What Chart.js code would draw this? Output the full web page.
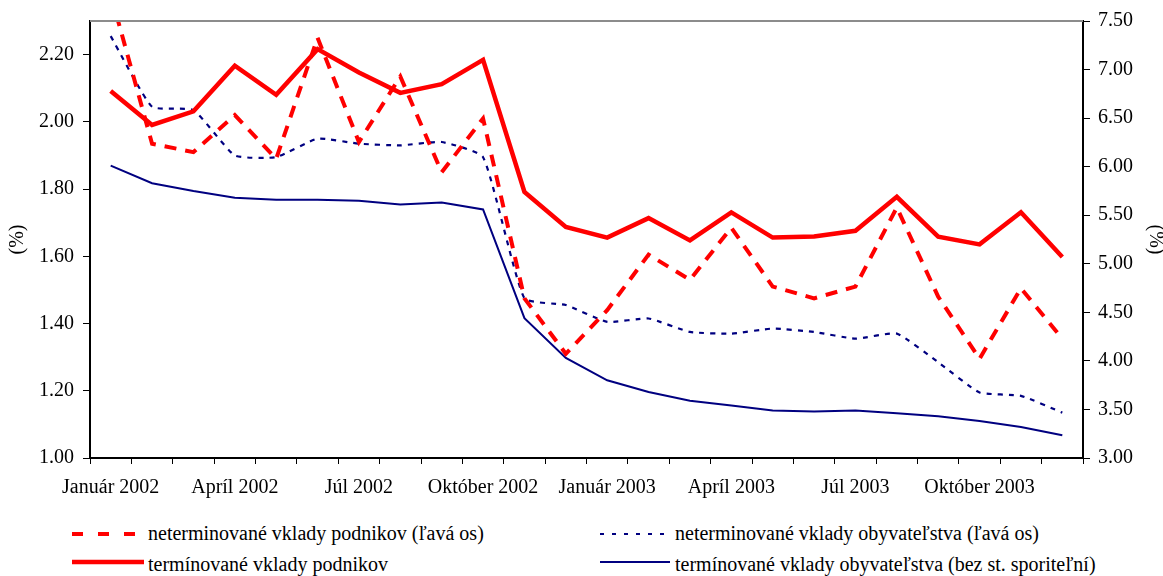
<!DOCTYPE html>
<html>
<head>
<meta charset="utf-8">
<script src="https://cdn.jsdelivr.net/npm/chart.js@4.4.1/dist/chart.umd.min.js"></script>
<style>
  body { margin: 0; background: #fff; }
  #wrap { position: relative; width: 1163px; height: 576px; font-family: "Liberation Serif", "Times New Roman", serif; color: #000; }
  #chart-box { position: absolute; left: 0; top: 0; width: 1163px; height: 510px; }
  .leg-line { position: absolute; }
  .leg-text { position: absolute; font-size: 20px; line-height: 24px; white-space: nowrap; }
</style>
</head>
<body>
<div id="wrap">
  <div id="chart-box"><canvas id="rates"></canvas></div>

  <svg class="leg-line" style="left:72px; top:528px;" width="64" height="12">
    <line x1="0" y1="6" x2="64" y2="6" stroke="#ff0000" stroke-width="4" stroke-dasharray="11 15"></line>
  </svg>
  <div class="leg-text" style="left:148px; top:521px;">neterminované vklady podnikov (ľavá os)</div>

  <svg class="leg-line" style="left:72px; top:556px;" width="72" height="12">
    <line x1="0" y1="6" x2="72" y2="6" stroke="#ff0000" stroke-width="4.5"></line>
  </svg>
  <div class="leg-text" style="left:148px; top:552px;">termínované vklady podnikov</div>

  <svg class="leg-line" style="left:600px; top:528px;" width="72" height="12">
    <line x1="0" y1="6" x2="72" y2="6" stroke="#000080" stroke-width="2" stroke-dasharray="4 8"></line>
  </svg>
  <div class="leg-text" style="left:675px; top:521px;">neterminované vklady obyvateľstva (ľavá os)</div>

  <svg class="leg-line" style="left:600px; top:556px;" width="70" height="12">
    <line x1="0" y1="6" x2="70" y2="6" stroke="#000080" stroke-width="2"></line>
  </svg>
  <div class="leg-text" style="left:675px; top:552px;">termínované vklady obyvateľstva (bez st. sporiteľní)</div>
</div>

<script>
const monthNames = ['Január', 'Február', 'Marec', 'Apríl', 'Máj', 'Jún', 'Júl', 'August', 'September', 'Október', 'November', 'December'];
const months = [2002, 2003].flatMap(y => monthNames.map(m => `${m} ${y}`));

// left axis (%)
const netPodnikov = [2.38, 1.935, 1.91, 2.02, 1.89, 2.25, 1.94, 2.135, 1.85, 2.01, 1.475, 1.31,
                     1.44, 1.605, 1.53, 1.685, 1.51, 1.475, 1.51, 1.745, 1.48, 1.295, 1.505, 1.355];
const netObyv = [2.255, 2.045, 2.035, 1.90, 1.895, 1.95, 1.935, 1.93, 1.94, 1.895, 1.475, 1.455,
                 1.405, 1.415, 1.375, 1.37, 1.385, 1.375, 1.355, 1.37, 1.285, 1.195, 1.185, 1.135];
// right axis (%)
const terPodnikov = [6.78, 6.43, 6.57, 7.04, 6.74, 7.21, 6.97, 6.76, 6.85, 7.10, 5.74, 5.38,
                     5.27, 5.47, 5.24, 5.53, 5.27, 5.28, 5.34, 5.69, 5.28, 5.20, 5.53, 5.07];
const terObyv = [6.01, 5.83, 5.75, 5.68, 5.66, 5.66, 5.65, 5.61, 5.63, 5.56, 4.44, 4.03,
                 3.80, 3.68, 3.59, 3.54, 3.49, 3.48, 3.49, 3.46, 3.43, 3.38, 3.32, 3.235];

const RED = '#ff0000';
const NAVY = '#000080';

Chart.defaults.font.family = '"Liberation Serif", "Times New Roman", serif';
Chart.defaults.font.size = 20;
Chart.defaults.color = '#000';

// grey frame line along the top of the plot
const topLine = {
  id: 'topLine',
  afterDatasetsDraw(chart) {
    const { ctx, chartArea: a } = chart;
    ctx.save();
    ctx.strokeStyle = '#8c8c8c';
    ctx.lineWidth = 2;
    ctx.beginPath();
    ctx.moveTo(a.left, a.top);
    ctx.lineTo(a.right, a.top);
    ctx.stroke();
    ctx.restore();
  }
};

new Chart(document.getElementById('rates'), {
  type: 'line',
  data: {
    labels: months,
    datasets: [
      {
        label: 'termínované vklady podnikov',
        data: terPodnikov,
        yAxisID: 'y1',
        borderColor: RED,
        borderWidth: 4.5,
        tension: 0
      },
      {
        label: 'neterminované vklady podnikov (ľavá os)',
        data: netPodnikov,
        yAxisID: 'y',
        borderColor: RED,
        borderWidth: 4,
        borderDash: [12, 9],
        tension: 0
      },
      {
        label: 'neterminované vklady obyvateľstva (ľavá os)',
        data: netObyv,
        yAxisID: 'y',
        borderColor: NAVY,
        borderWidth: 2.2,
        borderDash: [5, 6],
        tension: 0.15
      },
      {
        label: 'termínované vklady obyvateľstva (bez st. sporiteľní)',
        data: terObyv,
        yAxisID: 'y1',
        borderColor: NAVY,
        borderWidth: 2,
        tension: 0
      }
    ]
  },
  options: {
    responsive: true,
    maintainAspectRatio: false,
    animation: false,
    layout: { padding: { top: 17, right: 0, bottom: 0, left: 0 } },
    elements: { point: { radius: 0, hoverRadius: 0 }, line: { fill: false } },
    datasets: { line: { clip: 0 } },
    plugins: {
      legend: { display: false },
      tooltip: { enabled: false }
    },
    scales: {
      x: {
        offset: true,
        grid: { display: true, drawOnChartArea: false, offset: true, color: '#000', tickLength: 6, tickWidth: 1 },
        border: { color: '#000', width: 2 },
        ticks: {
          autoSkip: false,
          maxRotation: 0,
          padding: 12,
          callback: (v, i) => (i % 3 === 0 ? months[i] : '')
        },
        afterFit: s => { s.height = 52; }
      },
      y: {
        position: 'left',
        min: 1.0,
        max: 2.3,
        grid: { drawOnChartArea: false, color: '#000', tickLength: 7 },
        border: { color: '#000', width: 2 },
        ticks: { stepSize: 0.2, includeBounds: false, padding: 9, callback: v => v.toFixed(2) },
        title: { display: true, text: '(%)', padding: { top: 10, bottom: 0 }, font: { size: 20, lineHeight: 0.8 } },
        afterFit: s => { s.width = 90; }
      },
      y1: {
        position: 'right',
        min: 3.0,
        max: 7.5,
        grid: { drawOnChartArea: false, color: '#000', tickLength: 7 },
        border: { color: '#000', width: 2 },
        ticks: { stepSize: 0.5, padding: 8, callback: v => v.toFixed(2) },
        title: { display: true, text: '(%)', padding: { top: 0, bottom: 0 }, font: { size: 20, lineHeight: 0.8 } },
        afterFit: s => { s.width = 80; }
      }
    }
  },
  plugins: [topLine]
});
</script>
</body>
</html>
